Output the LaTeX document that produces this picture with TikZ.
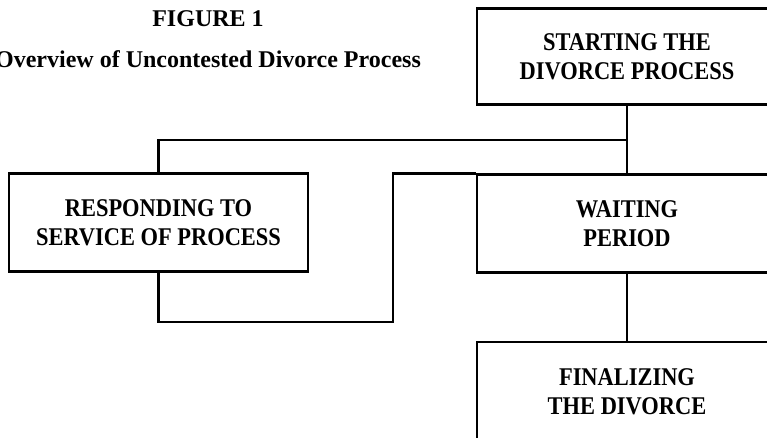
\documentclass[tikz,border=0pt]{standalone}
\usepackage{fontspec}
\setmainfont{Liberation Serif}[FakeStretch=0.88]
\newfontfamily\headfont{Liberation Serif}
\begin{document}
\begin{tikzpicture}[x=1pt,y=-1pt,
  stagebox/.style={draw, line width=2.6pt, minimum width=300pt, align=center,
    inner sep=0pt, font=\bfseries\fontsize{25.5}{29}\selectfont},
  heading/.style={font=\headfont\bfseries\fontsize{24}{28}\selectfont},
  link/.style={line width=2.6pt}]
  \useasboundingbox (0,0) rectangle (767,437);
  \clip (0,0) rectangle (767,437);

  % heading
  \node[heading] (fig) at (208,19) {FIGURE 1};
  \node[heading] (sub) at (208,59) {Overview of Uncontested Divorce Process};

  % stages
  \node[stagebox, minimum height=96pt] (start) at (627,56.5) {STARTING THE\\DIVORCE PROCESS};
  \node[stagebox, minimum width=299pt, minimum height=98pt] (resp) at (158.5,222.5) {RESPONDING TO\\SERVICE OF PROCESS};
  \node[stagebox, minimum height=98pt] (wait) at (627,223.5) {WAITING\\PERIOD};
  \node[stagebox, minimum height=100pt] (fin) at (627,392) {FINALIZING\\THE DIVORCE};

  % connectors
  \coordinate (split) at (627,140);
  \coordinate (detour) at (393,322);
  \draw[link] (start.south) -- (wait.north);
  \draw[link] (resp.north) |- (split);
  \draw[link] (resp.south) |- (detour) |- (wait.north west);
  \draw[link] (wait.south) -- (fin.north);
\end{tikzpicture}
\end{document}
